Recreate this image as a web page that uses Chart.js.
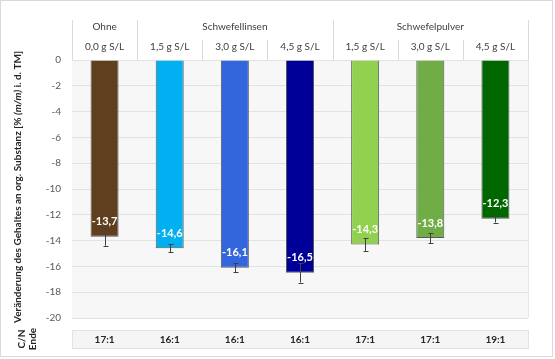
<!DOCTYPE html>
<html>
<head>
<meta charset="utf-8">
<script src="https://cdn.jsdelivr.net/npm/chart.js@4"></script>
<style>
html,body{margin:0;padding:0;background:#fff;}
canvas{display:block;}
</style>
</head>
<body>
<canvas id="c" width="555" height="359"></canvas>
<script>
const groups = [
  {label: "Ohne", from: 0, to: 0},
  {label: "Schwefellinsen", from: 1, to: 3},
  {label: "Schwefelpulver", from: 4, to: 6}
];
const doses = ["0,0 g S/L", "1,5 g S/L", "3,0 g S/L", "4,5 g S/L", "1,5 g S/L", "3,0 g S/L", "4,5 g S/L"];
const values = [-13.7, -14.6, -16.1, -16.5, -14.3, -13.8, -12.3];
const errors = [0.7, 0.3, 0.35, 0.75, 0.5, 0.4, 0.3];
const cnRatio = ["17:1", "16:1", "16:1", "16:1", "17:1", "17:1", "19:1"];
const barColors = ["#603f1e", "#00b0f0", "#3366dd", "#000099", "#92d050", "#70ad47", "#006600"];
const yTicks = [0, -2, -4, -6, -8, -10, -12, -14, -16, -18, -20];

const FONT = "Lato, 'DejaVu Sans', sans-serif";

const deco = {
  id: 'deco',
  beforeDraw(chart) {
    const {ctx, chartArea: a} = chart;
    ctx.save();
    ctx.fillStyle = '#f7f7f7';
    ctx.fillRect(a.left, a.top, a.right - a.left, a.bottom - a.top);
    ctx.restore();
  },
  afterDatasetsDraw(chart) {
    const {ctx} = chart;
    const meta = chart.getDatasetMeta(0);
    const y = chart.scales.y;
    ctx.save();
    // error bars
    ctx.strokeStyle = '#404040';
    ctx.lineWidth = 1;
    meta.data.forEach((bar, i) => {
      const x = Math.round(bar.x) + 0.5;
      const y1 = y.getPixelForValue(values[i] + errors[i]);
      const y2 = y.getPixelForValue(values[i] - errors[i]);
      ctx.beginPath();
      ctx.moveTo(x, y1); ctx.lineTo(x, y2);
      ctx.moveTo(x - 2, Math.round(y1) + 0.5); ctx.lineTo(x + 3, Math.round(y1) + 0.5);
      ctx.moveTo(x - 2, Math.round(y2) + 0.5); ctx.lineTo(x + 3, Math.round(y2) + 0.5);
      ctx.stroke();
    });
    // value labels
    ctx.fillStyle = '#ffffff';
    ctx.font = "bold 11px " + FONT;
    ctx.textAlign = 'center';
    ctx.textBaseline = 'middle';
    meta.data.forEach((bar, i) => {
      const txt = values[i].toFixed(1).replace('.', ',');
      ctx.fillText(txt, bar.x, bar.y - 15);
    });
    ctx.restore();
  },
  afterDraw(chart) {
    const {ctx, chartArea: a} = chart;
    const x = chart.scales.x;
    const n = doses.length;
    const cw = (a.right - a.left) / n;
    ctx.save();
    // header separators
    ctx.strokeStyle = '#d9d9d9';
    ctx.lineWidth = 1;
    const groupEdges = new Set();
    groups.forEach(g => { groupEdges.add(g.from); groupEdges.add(g.to + 1); });
    for (let k = 0; k <= n; k++) {
      const px = Math.round(a.left + k * cw) + 0.5;
      const top = groupEdges.has(k) ? 20 : 40;
      ctx.beginPath();
      ctx.moveTo(px, top); ctx.lineTo(px, a.top);
      ctx.stroke();
    }
    // header texts
    ctx.fillStyle = '#404040';
    ctx.font = "10px " + FONT;
    ctx.textAlign = 'center';
    ctx.textBaseline = 'middle';
    groups.forEach(g => {
      const cx = (x.getPixelForValue(g.from) + x.getPixelForValue(g.to)) / 2;
      ctx.fillText(g.label, cx, 27);
    });
    doses.forEach((d, i) => {
      ctx.fillText(d, x.getPixelForValue(i), 47);
    });
    // C/N table row
    ctx.fillStyle = '#f5f5f5';
    ctx.fillRect(a.left, 330.5, a.right - a.left, 18);
    ctx.strokeStyle = '#e3e3e3';
    ctx.strokeRect(a.left + 0.5, 330.5, a.right - a.left, 18);
    ctx.fillStyle = '#262626';
    ctx.font = "bold 10px " + FONT;
    cnRatio.forEach((t, i) => {
      ctx.fillText(t, x.getPixelForValue(i), 340);
    });
    // C/N Ende label
    ctx.save();
    ctx.translate(0, 339);
    ctx.rotate(-Math.PI / 2);
    ctx.font = "bold 10px " + FONT;
    ctx.fillStyle = '#262626';
    ctx.fillText("C/N", 0, 22);
    ctx.fillText("Ende", 0, 33);
    ctx.restore();
    // y axis title with italic part
    const parts = [
      ["Veränderung des Gehaltes an org. Substanz [% ", "bold 10px " + FONT],
      ["(m/m)", "italic bold 10px " + FONT],
      [" i. d. TM]", "bold 10px " + FONT]
    ];
    let total = 0;
    parts.forEach(p => { ctx.font = p[1]; total += ctx.measureText(p[0]).width; });
    ctx.save();
    ctx.translate(18, 187);
    ctx.rotate(-Math.PI / 2);
    ctx.fillStyle = '#262626';
    ctx.textAlign = 'left';
    let cx = -total / 2;
    parts.forEach(p => { ctx.font = p[1]; ctx.fillText(p[0], cx, 0); cx += ctx.measureText(p[0]).width; });
    ctx.restore();
    // plot border right
    ctx.strokeStyle = '#e6e6e6';
    ctx.beginPath();
    ctx.moveTo(Math.round(a.right) + 0.5, a.top); ctx.lineTo(Math.round(a.right) + 0.5, a.bottom);
    ctx.stroke();
    // outer frame
    ctx.strokeStyle = '#d9d9d9';
    ctx.strokeRect(0.5, 0.5, 552, 356);
    ctx.restore();
  }
};

new Chart(document.getElementById('c'), {
  type: 'bar',
  data: {
    labels: doses,
    datasets: [{
      data: values,
      backgroundColor: barColors,
      borderColor: '#5a5a5a',
      borderWidth: 1,
      barPercentage: 0.43,
      categoryPercentage: 1
    }]
  },
  options: {
    responsive: false,
    animation: false,
    devicePixelRatio: 1,
    layout: {padding: {top: 60, right: 27, bottom: 41, left: 0}},
    plugins: {legend: {display: false}, tooltip: {enabled: false}},
    scales: {
      x: {display: false},
      y: {
        min: -20, max: 0,
        afterFit(scale) { scale.width = 72; },
        afterBuildTicks(scale) { scale.ticks = yTicks.map(v => ({value: v})); },
        grid: {color: '#e2e2e2', drawTicks: false},
        border: {display: false},
        ticks: {
          padding: 11,
          color: '#595959',
          font: {family: FONT, size: 10},
          callback: v => String(v)
        }
      }
    }
  },
  plugins: [deco]
});
</script>
</body>
</html>
